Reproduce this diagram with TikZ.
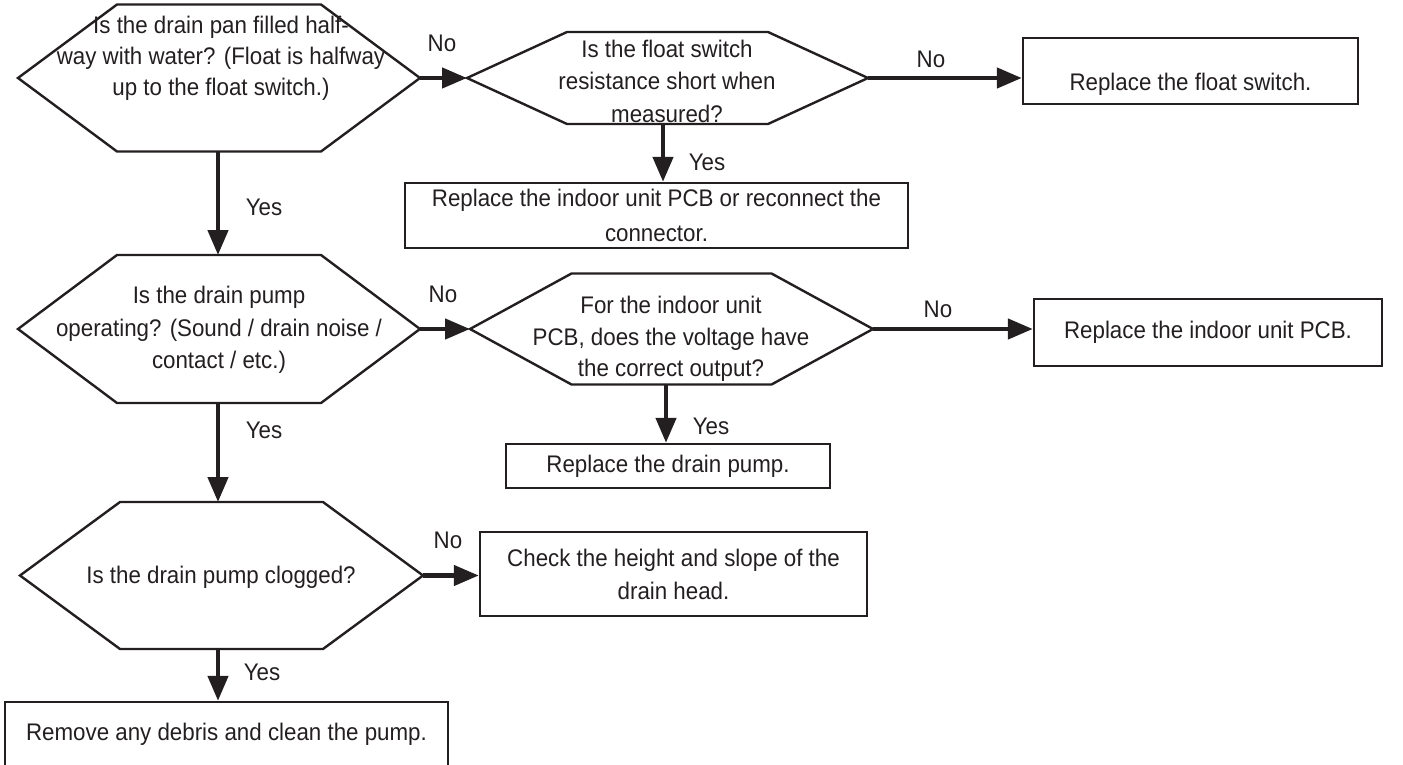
\documentclass[tikz,border=0pt]{standalone}
\usepackage{fontspec}
\setmainfont{Liberation Sans}[FakeStretch=0.93]
\usetikzlibrary{arrows.meta}
\definecolor{ink}{RGB}{35,31,32}
\newcommand\hexa[7]{% name, cx, cy, tip half-width, top half-width, half-height, arrow x
  \draw[hexline] ({#2-#4},{#3}) -- ({#2-#5},{#3-#6}) -- ({#2+#5},{#3-#6}) -- ({#2+#4},{#3})
     -- ({#2+#5},{#3+#6}) -- ({#2-#5},{#3+#6}) -- cycle;
  \coordinate (#1-l) at ({#2-#4},{#3});
  \coordinate (#1-r) at ({#2+#4},{#3});
  \coordinate (#1-t) at ({#7},{#3-#6});
  \coordinate (#1-b) at ({#7},{#3+#6});
}
\begin{document}
\begin{tikzpicture}[x=1pt,y=-1pt,
  hexline/.style={draw=ink, line width=2.4pt, line join=miter},
  txt/.style={align=center, text=ink, inner sep=0pt, font=\fontsize{24}{31}\selectfont},
  boxnode/.style={txt, draw=ink, line width=2.4pt, rectangle},
  lbl/.style={text=ink, inner sep=0pt, font=\fontsize{24}{28}\selectfont},
  arr/.style={draw=ink, line width=4.5pt, -{Triangle[length=25pt,width=20pt]}},
]
\useasboundingbox (0,0) rectangle (1403,765);
\clip (0,0) rectangle (1403,765);

% decision hexagons
\hexa{h1}{219}{78}{201}{102}{73.5}{218}
\hexa{h2}{667.5}{78}{200.5}{100.5}{46}{663}
\hexa{h3}{219}{329}{201}{102}{74}{218}
\hexa{h4}{671.5}{329}{201.5}{100}{55.5}{666}
\hexa{h5}{221.5}{575.5}{201.5}{101.5}{73.5}{218}

\node[txt, font=\fontsize{24}{31}\selectfont] (t1) at (221,58.5) {Is the drain pan filled half-\\way with water? (Float is halfway\\up to the float switch.)};
\node[txt, font=\fontsize{24}{32.5}\selectfont] (t2) at (667,81) {Is the float switch\\resistance short when\\measured?};
\node[txt, font=\fontsize{24}{32.5}\selectfont] (t3) at (219,330) {Is the drain pump\\operating? (Sound / drain noise /\\contact / etc.)};
\node[txt, font=\fontsize{24}{31.5}\selectfont] (t4) at (671,339) {For the indoor unit\\PCB, does the voltage have\\the correct output?};
\node[txt] (t5) at (221,577) {Is the drain pump clogged?};

% action boxes
\node[boxnode, minimum width=335pt, minimum height=66pt, text height=44pt, text depth=5pt] (b1) at (1190.5,71) {Replace the float switch.};
\node[boxnode, minimum width=503pt, minimum height=65pt, font=\fontsize{24}{35}\selectfont] (b2) at (656.5,215.5) {Replace the indoor unit PCB or reconnect the\\connector.};
\node[boxnode, minimum width=348pt, minimum height=67pt] (b3) at (1208,332.5) {Replace the indoor unit PCB.};
\node[boxnode, minimum width=324pt, minimum height=44pt] (b4) at (668,466) {Replace the drain pump.};
\node[boxnode, minimum width=387pt, minimum height=84pt, font=\fontsize{24}{33}\selectfont] (b5) at (673.5,574) {Check the height and slope of the\\drain head.};
\node[boxnode, minimum width=443pt, minimum height=65pt] (b6) at (226.5,734.5) {Remove any debris and clean the pump.};

% connectors
\draw[arr] (h1-r) -- (h2-l);
\draw[arr] (h2-r) -- (h2-r -| b1.west);
\draw[arr] (h2-b) -- (h2-b |- b2.north);
\draw[arr] (h1-b) -- (h3-t);
\draw[arr] (h3-r) -- (h4-l);
\draw[arr] (h4-r) -- (h4-r -| b3.west);
\draw[arr] (h4-b) -- (h4-b |- b4.north);
\draw[arr] (h3-b) -- (h5-t);
\draw[arr] (h5-r) -- (h5-r -| b5.west);
\draw[arr] (h5-b) -- (h5-b |- b6.north);

% branch labels
\node[lbl] (n1) at (442,43) {No};
\node[lbl] (n2) at (931,59) {No};
\node[lbl] (n3) at (443,294) {No};
\node[lbl] (n4) at (938,309) {No};
\node[lbl] (n5) at (448,540) {No};
\node[lbl] (y1) at (264,207) {Yes};
\node[lbl] (y2) at (707,162) {Yes};
\node[lbl] (y3) at (264,430) {Yes};
\node[lbl] (y4) at (711,426) {Yes};
\node[lbl] (y5) at (262,672) {Yes};
\end{tikzpicture}
\end{document}
